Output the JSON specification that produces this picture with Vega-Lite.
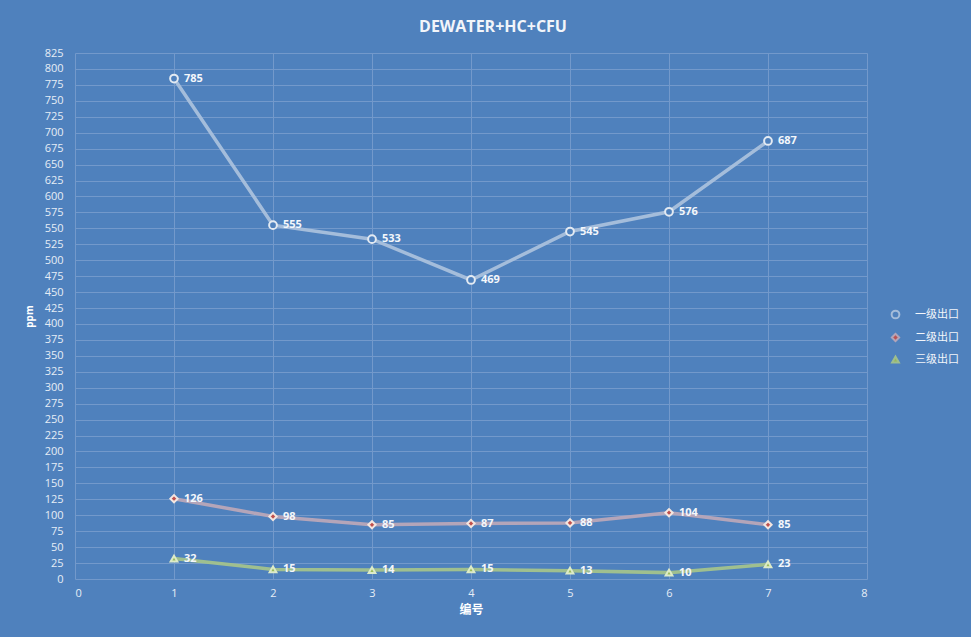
{
  "$schema": "https://vega.github.io/schema/vega-lite/v6.json",
  "width": 792,
  "height": 526,
  "autosize": {"type": "none"},
  "padding": {"left": 75, "top": 53, "right": 104, "bottom": 58},
  "background": "#4F81BD",
  "title": {
    "text": "DEWATER+HC+CFU",
    "anchor": "middle",
    "frame": "group",
    "dx": 22,
    "offset": 12,
    "font": "Open Sans",
    "fontSize": 16,
    "fontWeight": "bold",
    "color": "#F2F5FA"
  },
  "config": {
    "view": {"stroke": null},
    "font": "Open Sans",
    "axis": {
      "labelColor": "#E6EDF6",
      "labelFont": "Open Sans",
      "labelFontSize": 11,
      "titleColor": "#FFFFFF",
      "titleFont": "Noto Sans CJK SC",
      "titleFontWeight": "bold",
      "gridColor": "#7399CB",
      "gridWidth": 1,
      "domain": false,
      "ticks": false
    },
    "legend": {
      "title": null,
      "orient": "none",
      "legendX": 815,
      "legendY": 256,
      "labelColor": "#F2F5FA",
      "labelFont": "Noto Sans CJK SC",
      "labelFontSize": 11,
      "labelOffset": 14,
      "rowPadding": 6,
      "symbolStrokeWidth": 2
    }
  },
  "data": {
    "values": [
      {"编号": 1, "series": "一级出口", "ppm": 785},
      {"编号": 2, "series": "一级出口", "ppm": 555},
      {"编号": 3, "series": "一级出口", "ppm": 533},
      {"编号": 4, "series": "一级出口", "ppm": 469},
      {"编号": 5, "series": "一级出口", "ppm": 545},
      {"编号": 6, "series": "一级出口", "ppm": 576},
      {"编号": 7, "series": "一级出口", "ppm": 687},
      {"编号": 1, "series": "二级出口", "ppm": 126},
      {"编号": 2, "series": "二级出口", "ppm": 98},
      {"编号": 3, "series": "二级出口", "ppm": 85},
      {"编号": 4, "series": "二级出口", "ppm": 87},
      {"编号": 5, "series": "二级出口", "ppm": 88},
      {"编号": 6, "series": "二级出口", "ppm": 104},
      {"编号": 7, "series": "二级出口", "ppm": 85},
      {"编号": 1, "series": "三级出口", "ppm": 32},
      {"编号": 2, "series": "三级出口", "ppm": 15},
      {"编号": 3, "series": "三级出口", "ppm": 14},
      {"编号": 4, "series": "三级出口", "ppm": 15},
      {"编号": 5, "series": "三级出口", "ppm": 13},
      {"编号": 6, "series": "三级出口", "ppm": 10},
      {"编号": 7, "series": "三级出口", "ppm": 23}
    ]
  },
  "encoding": {
    "x": {
      "field": "编号",
      "type": "quantitative",
      "scale": {"domain": [0, 8], "nice": false},
      "axis": {"values": [0, 1, 2, 3, 4, 5, 6, 7, 8], "labelPadding": 8, "titlePadding": 6, "titleFontSize": 12}
    },
    "y": {
      "field": "ppm",
      "type": "quantitative",
      "scale": {"domain": [0, 825], "nice": false},
      "axis": {"values": [0,25,50,75,100,125,150,175,200,225,250,275,300,325,350,375,400,425,450,475,500,525,550,575,600,625,650,675,700,725,750,775,800,825], "labelPadding": 12, "titlePadding": 10, "titleFontSize": 10, "titleFont": "Open Sans"}
    }
  },
  "layer": [
    {
      "mark": {"type": "line", "strokeWidth": 3.5, "opacity": 0.95},
      "encoding": {
        "detail": {"field": "series"},
        "color": {
          "field": "series",
          "type": "nominal",
          "scale": {"domain": ["一级出口", "二级出口", "三级出口"], "range": ["#A9C0DC", "#B9A6B8", "#A3C28C"]}
        }
      }
    },
    {
      "mark": {"type": "point", "filled": true, "strokeWidth": 2, "opacity": 1},
      "encoding": {
        "fill": {
          "field": "series",
          "type": "nominal",
          "scale": {"domain": ["一级出口", "二级出口", "三级出口"], "range": ["#4F81BD", "#C0504D", "#9BBB59"]}
        },
        "shape": {
          "field": "series",
          "type": "nominal",
          "scale": {"domain": ["一级出口", "二级出口", "三级出口"], "range": ["circle", "diamond", "triangle-up"]}
        },
        "stroke": {
          "field": "series",
          "type": "nominal",
          "scale": {"domain": ["一级出口", "二级出口", "三级出口"], "range": ["#E3EAF2", "#F3E6E0", "#DDEBC8"]}
        },
        "size": {
          "field": "series",
          "type": "nominal",
          "scale": {"domain": ["一级出口", "二级出口", "三级出口"], "range": [60, 45, 60]}
        }
      }
    },
    {
      "mark": {"type": "text", "align": "left", "dx": 10, "fontSize": 11, "fontWeight": "bold", "color": "#F4F7FB", "font": "Open Sans"},
      "encoding": {"text": {"field": "ppm", "type": "quantitative"}}
    }
  ]
}
